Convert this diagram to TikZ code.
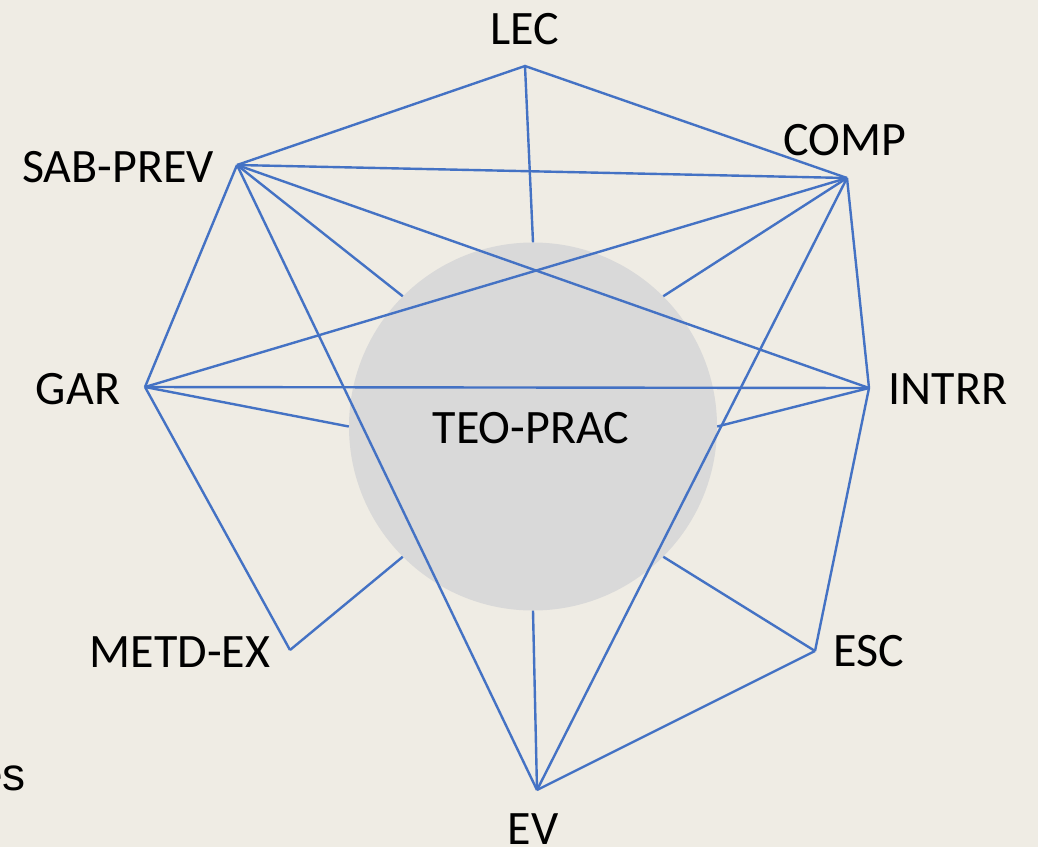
\documentclass[tikz,border=0pt]{standalone}
\usepackage{fontspec}
\setmainfont{Carlito}
\newfontfamily\arialish{Liberation Sans}
\begin{document}
\begin{tikzpicture}[x=1pt,y=-1pt,
  edge/.style={draw=linkblue,line width=2.4pt,line join=miter},
  lbl/.style={font=\fontsize{48}{56}\selectfont,inner sep=0pt,text=black}]
\definecolor{bg}{HTML}{EFECE4}
\definecolor{linkblue}{HTML}{4472C4}
\definecolor{disc}{HTML}{D9D9D9}
\fill[bg] (0,0) rectangle (1038,847);
\useasboundingbox (0,0) rectangle (1038,847);
% centre disc
\node[circle,fill=disc,minimum size=368pt,inner sep=0pt] (c) at (533,426.5) {};
\node[lbl] (teo) at (531,428) {TEO-PRAC};
% vertices
\coordinate (lec) at (525,66);
\coordinate (comp) at (847,178);
\coordinate (sab) at (237,165);
\coordinate (gar) at (145,387);
\coordinate (intrr) at (869,388);
\coordinate (metd) at (290,650);
\coordinate (esc) at (815,651);
\coordinate (ev) at (537,790);
% labels
\node[lbl] (tlec) at (525,29) {LEC};
\node[lbl] (tcomp) at (845,140) {COMP};
\node[lbl] (tsab) at (118,167) {SAB-PREV};
\node[lbl] (tgar) at (78,389) {GAR};
\node[lbl] (tintrr) at (948,389) {INTRR};
\node[lbl] (tmetd) at (180,652) {METD-EX};
\node[lbl] (tesc) at (869,651) {ESC};
\node[lbl] (tev) at (533,829) {EV};
\node[lbl,font=\arialish\fontsize{46}{54}\selectfont,anchor=base east] (tes) at (26,790) {es};
% edges between vertices
\draw[edge] (sab) -- (lec) -- (comp);
\draw[edge] (sab) -- (comp);
\draw[edge] (sab) -- (intrr);
\draw[edge] (sab) -- (gar);
\draw[edge] (sab) -- (ev);
\draw[edge] (comp) -- (gar);
\draw[edge] (comp) -- (intrr);
\draw[edge] (comp) -- (ev);
\draw[edge] (gar) -- (intrr);
\draw[edge] (gar) -- (metd);
\draw[edge] (intrr) -- (esc);
\draw[edge] (esc) -- (ev);
% spokes to the disc
\draw[edge] (lec) -- (c.north);
\draw[edge] (sab) -- (c.135);
\draw[edge] (comp) -- (c.45);
\draw[edge] (gar) -- (c.west);
\draw[edge] (intrr) -- (c.east);
\draw[edge] (metd) -- (c.225);
\draw[edge] (esc) -- (c.315);
\draw[edge] (ev) -- (c.south);
\end{tikzpicture}
\end{document}
